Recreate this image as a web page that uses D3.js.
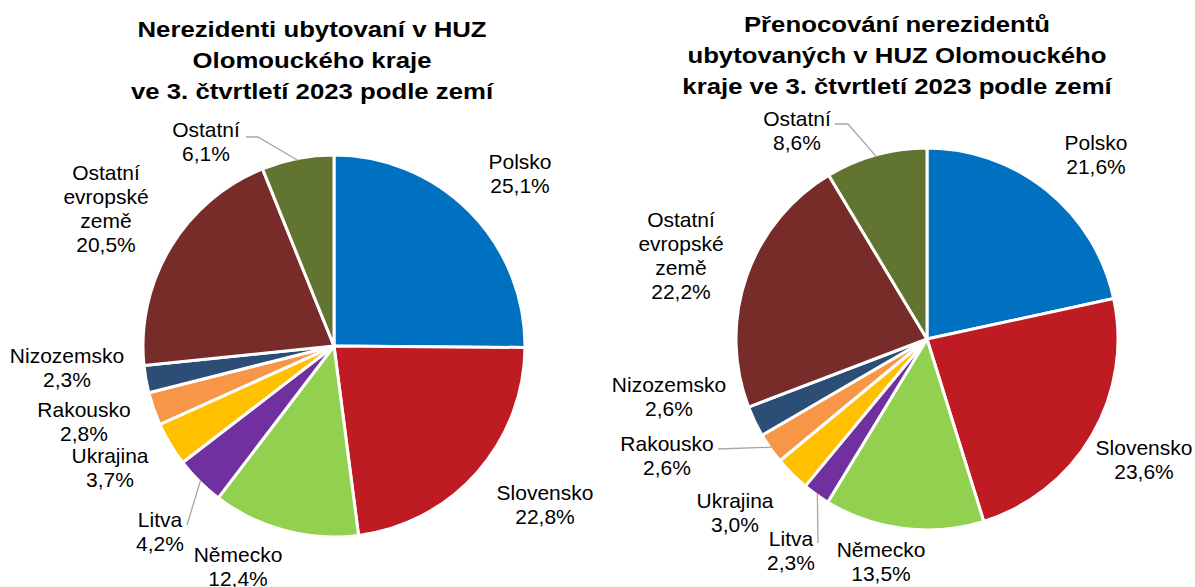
<!DOCTYPE html>
<html>
<head>
<meta charset="utf-8">
<script src="https://cdn.jsdelivr.net/npm/d3@7"></script>
<style>
  body { margin: 0; background: #fff; }
  text { font-family: "Liberation Sans", Arial, sans-serif; fill: #000; }
</style>
</head>
<body>
<script>
var w = 1195;
var h = 587;

// data
var categories = ["Polsko", "Slovensko", "Německo", "Litva", "Ukrajina", "Rakousko", "Nizozemsko", "Ostatní evropské země", "Ostatní"];
var guests = [25.1, 22.8, 12.4, 4.2, 3.7, 2.8, 2.3, 20.5, 6.1];   // nerezidenti ubytovaní, %
var nights = [21.6, 23.6, 13.5, 2.3, 3.0, 2.6, 2.6, 22.2, 8.6];   // přenocování, %
var titleLeft = ["Nerezidenti ubytovaní v HUZ", "Olomouckého kraje", "ve 3. čtvrtletí 2023 podle zemí"];
var titleRight = ["Přenocování nerezidentů", "ubytovaných v HUZ Olomouckého", "kraje ve 3. čtvrtletí 2023 podle zemí"];

var colors = ["#0070C0", "#BE1B23", "#92D050", "#7030A0", "#FFC000", "#F79646", "#2C4D75", "#772C2A", "#617530"];

// label lines (category name wrapped as in the original)
var labelLines = [["Polsko"], ["Slovensko"], ["Německo"], ["Litva"], ["Ukrajina"], ["Rakousko"], ["Nizozemsko"], ["Ostatní", "evropské", "země"], ["Ostatní"]];

// layout: label offsets from pie centre (first baseline), leader lines
var charts = [
  {
    values: guests, title: titleLeft, cx: 334, cy: 346, r: 191, tx: 312, ty: 37,
    labels: [[186, -177], [211, 154], [-96, 216], [-174, 181], [-224, 117], [-250, 71], [-267, 17], [-228, -166], [-128, -209]],
    leaders: [{ i: 8, pts: [[-88, -209], [-76, -209]] }, { i: 3, pts: [[-147, 179]] }]
  },
  {
    values: nights, title: titleRight, cx: 927, cy: 339, r: 191, tx: 897, ty: 32,
    labels: [[169, -189], [217, 116], [-46, 218], [-136, 207], [-192, 169], [-260, 112], [-258, 53], [-246, -112], [-130, -213]],
    leaders: [{ i: 8, pts: [[-92, -215], [-79, -215]] }, { i: 5, pts: [[-209, 110]] }, { i: 3, pts: [[-109, 204]] }]
  }
];

var svg = d3.select("body").append("svg").attr("width", w).attr("height", h);

var pie = d3.pie().sort(null).value(function (d) { return d; });
var fmt = function (v) { return d3.format(".1f")(v).replace(".", ",") + "%"; };

charts.forEach(function (c) {
  var arcs = pie(c.values);
  var arc = d3.arc().innerRadius(0).outerRadius(c.r);

  // title
  var t = svg.append("text")
    .attr("text-anchor", "middle")
    .attr("font-size", 23)
    .attr("font-weight", "bold")
    .attr("transform", "translate(" + c.tx + "," + c.ty + ") scale(1.12,1)");
  c.title.forEach(function (line, k) {
    t.append("tspan").attr("x", 0).attr("y", k * 31).text(line);
  });

  var g = svg.append("g").attr("transform", "translate(" + c.cx + "," + c.cy + ")");

  g.selectAll("path.slice").data(arcs).enter().append("path")
    .attr("class", "slice")
    .attr("d", arc)
    .style("fill", function (d, i) { return colors[i]; })
    .style("stroke", "#fff")
    .style("stroke-width", 3)
    .style("stroke-linejoin", "round");

  // leader lines
  c.leaders.forEach(function (l) {
    var a = (arcs[l.i].startAngle + arcs[l.i].endAngle) / 2;
    var end = [Math.sin(a) * (c.r - 2), -Math.cos(a) * (c.r - 2)];
    g.append("path")
      .attr("d", d3.line()(l.pts.concat([end])))
      .style("fill", "none")
      .style("stroke", "#A6A6A6")
      .style("stroke-width", 1.3);
  });

  // labels
  arcs.forEach(function (d, i) {
    var lines = labelLines[i].concat([fmt(c.values[i])]);
    var lt = g.append("text")
      .attr("text-anchor", "middle")
      .attr("font-size", 20)
      .attr("transform", "translate(" + c.labels[i][0] + "," + c.labels[i][1] + ") scale(1.05,1)");
    lines.forEach(function (line, k) {
      lt.append("tspan").attr("x", 0).attr("y", k * 24).text(line);
    });
  });
});
</script>
</body>
</html>
